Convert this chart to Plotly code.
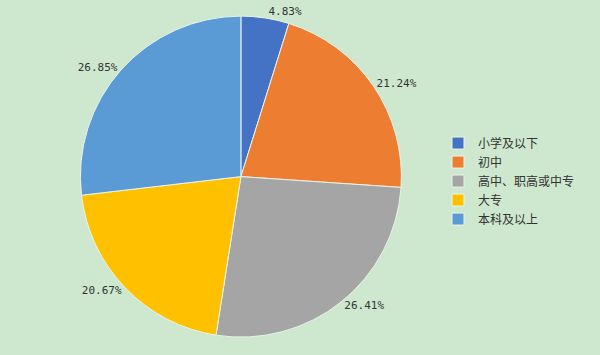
import plotly.graph_objects as go

categories = ["小学及以下", "初中", "高中、职高或中专", "大专", "本科及以上"]
values = [4.83, 21.24, 26.41, 20.67, 26.85]
colors = ["#4472C4", "#ED7D31", "#A5A5A5", "#FFC000", "#5B9BD5"]

BG = "#CDE8CE"

fig = go.Figure(go.Pie(
    labels=categories,
    values=values,
    sort=False,
    direction="clockwise",
    rotation=0,
    marker=dict(colors=colors, line=dict(color="#EAF4EA", width=1)),
    texttemplate="%{value:.2f}%",
    textposition="outside",
    outsidetextfont=dict(family="DejaVu Sans Mono, Noto Sans CJK SC", size=11, color="#333333"),
    domain=dict(x=[0.134, 0.669], y=[0.05, 0.955]),
    automargin=False,
    hoverinfo="label+percent",
))

fig.update_layout(
    width=600, height=355,
    margin=dict(l=0, r=0, t=0, b=0),
    paper_bgcolor=BG,
    plot_bgcolor=BG,
    legend=dict(
        x=0.73, y=0.49, xanchor="left", yanchor="middle",
        font=dict(family="Noto Sans CJK SC", size=12, color="#333333"),
        bgcolor="rgba(0,0,0,0)",
        itemwidth=30,
    ),
    showlegend=True,
)

fig.write_html(
    "out.html",
    config={"displayModeBar": False},
    post_script="document.body.style.margin='0';document.body.style.background='" + BG + "';",
)
